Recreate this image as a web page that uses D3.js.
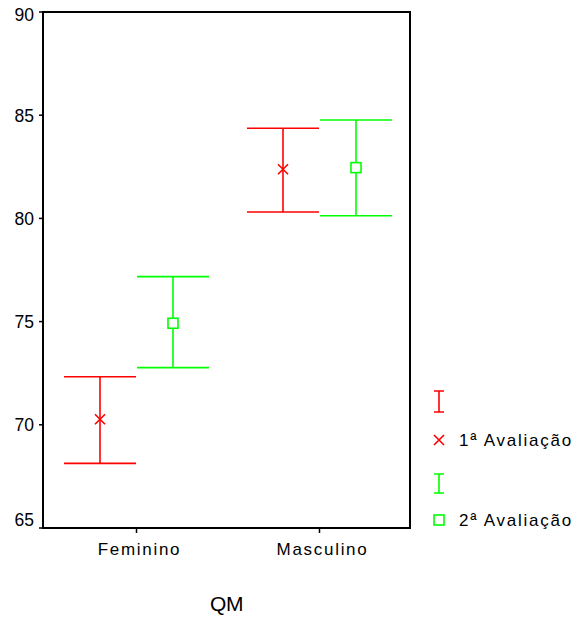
<!DOCTYPE html>
<html>
<head>
<meta charset="utf-8">
<script src="https://cdn.jsdelivr.net/npm/d3@7"></script>
<style>
  body { margin: 0; background: #fff; }
  text { font-family: "Liberation Sans", Arial, sans-serif; fill: #000; }
</style>
</head>
<body>
<div id="viz"></div>
<script>
// data
let categories = ["Feminino", "Masculino"]
let series = ["1ª Avaliação", "2ª Avaliação"]
let seriesColors = ["#ff0000", "#00ff00"]
let means1 = [70.27, 82.38]
let lower1 = [68.13, 80.31]
let upper1 = [72.33, 84.37]
let means2 = [74.92, 82.46]
let lower2 = [72.77, 80.13]
let upper2 = [77.18, 84.77]
let yTicks = [65, 70, 75, 80, 85, 90]
let xTitle = "QM"

let w = 578;
let h = 617;
let plotLeft = 43, plotRight = 410, plotTop = 12, plotBottom = 528;

const svg = d3.select("#viz")
  .append("svg")
  .attr("width", w)
  .attr("height", h);

const yScale = d3.scaleLinear()
  .domain([65, 90])
  .range([plotBottom, plotTop]);

const xScale = d3.scaleBand()
  .domain(categories)
  .range([45, 411]);

const subScale = d3.scaleBand()
  .domain(series)
  .range([-73, 73]);

let rows = [];
categories.forEach((c, i) => {
  rows.push({cat: c, s: series[0], mean: means1[i], lo: lower1[i], hi: upper1[i], color: seriesColors[0]})
  rows.push({cat: c, s: series[1], mean: means2[i], lo: lower2[i], hi: upper2[i], color: seriesColors[1]})
})

let cx = d => xScale(d.cat) + xScale.bandwidth() / 2 + subScale(d.s) + subScale.bandwidth() / 2;
let capW = subScale.bandwidth() - 1;

// frame
svg.append("rect")
  .attr("x", plotLeft)
  .attr("y", plotTop)
  .attr("width", plotRight - plotLeft)
  .attr("height", plotBottom - plotTop)
  .attr("fill", "none")
  .attr("stroke", "black")
  .attr("stroke-width", 2)

// y ticks
let axisGroup = svg.append("g")
yTicks.forEach(t => {
  axisGroup.append("line")
    .attr("x1", plotLeft - 4)
    .attr("x2", plotLeft)
    .attr("y1", yScale(t))
    .attr("y2", yScale(t))
    .attr("stroke", "black")
    .attr("stroke-width", 1.5)
  axisGroup.append("text")
    .attr("x", 34)
    .attr("y", Math.min(Math.max(yScale(t), 15), 520))
    .attr("dy", "0.36em")
    .attr("text-anchor", "end")
    .style("font-size", "17.5px")
    .text(t)
})

// x ticks
categories.forEach(c => {
  let x = xScale(c) + xScale.bandwidth() / 2;
  axisGroup.append("line")
    .attr("x1", x)
    .attr("x2", x)
    .attr("y1", plotBottom)
    .attr("y2", plotBottom + 5)
    .attr("stroke", "black")
    .attr("stroke-width", 1.5)
  axisGroup.append("text")
    .attr("x", x + 3)
    .attr("y", 555)
    .attr("text-anchor", "middle")
    .style("font-size", "17px")
    .style("letter-spacing", "1.7px")
    .text(c)
})

svg.append("text")
  .attr("x", (plotLeft + plotRight) / 2)
  .attr("y", 611)
  .attr("text-anchor", "middle")
  .style("font-size", "21px")
  .style("letter-spacing", "-0.5px")
  .text(xTitle)

// error bars
let barGroup = svg.append("g")
  .attr("stroke-width", 1.6)
  .attr("fill", "none")

barGroup.selectAll(".stem")
  .data(rows)
  .enter()
  .append("line")
  .attr("x1", cx)
  .attr("x2", cx)
  .attr("y1", d => yScale(d.lo))
  .attr("y2", d => yScale(d.hi))
  .attr("stroke", d => d.color)

barGroup.selectAll(".capHi")
  .data(rows)
  .enter()
  .append("line")
  .attr("x1", d => cx(d) - capW / 2)
  .attr("x2", d => cx(d) + capW / 2)
  .attr("y1", d => yScale(d.hi))
  .attr("y2", d => yScale(d.hi))
  .attr("stroke", d => d.color)

barGroup.selectAll(".capLo")
  .data(rows)
  .enter()
  .append("line")
  .attr("x1", d => cx(d) - capW / 2)
  .attr("x2", d => cx(d) + capW / 2)
  .attr("y1", d => yScale(d.lo))
  .attr("y2", d => yScale(d.lo))
  .attr("stroke", d => d.color)

// markers
let drawCross = (g, x, y, color) => {
  g.append("path")
    .attr("d", `M${x - 5},${y - 5}L${x + 5},${y + 5}M${x - 5},${y + 5}L${x + 5},${y - 5}`)
    .attr("stroke", color)
    .attr("stroke-width", 1.6)
    .attr("fill", "none")
}
let drawSquare = (g, x, y, color) => {
  g.append("rect")
    .attr("x", x - 5)
    .attr("y", y - 5)
    .attr("width", 10)
    .attr("height", 10)
    .attr("stroke", color)
    .attr("stroke-width", 1.6)
    .attr("fill", "white")
}

rows.forEach(d => {
  if (d.s == series[0]) drawCross(barGroup, cx(d), yScale(d.mean), d.color)
  else drawSquare(barGroup, cx(d), yScale(d.mean), d.color)
})

// legend
let legend = svg.append("g")
let lx = 439;
let drawIBar = (y1, y2, color) => {
  legend.append("path")
    .attr("d", `M${lx - 5},${y1}H${lx + 5}M${lx},${y1}V${y2}M${lx - 5},${y2}H${lx + 5}`)
    .attr("stroke", color)
    .attr("stroke-width", 1.6)
    .attr("fill", "none")
}
drawIBar(391, 412, seriesColors[0])
drawCross(legend, lx, 440, seriesColors[0])
drawIBar(474, 493, seriesColors[1])
drawSquare(legend, lx, 520, seriesColors[1])

legend.append("text")
  .attr("x", 459)
  .attr("y", 446)
  .style("font-size", "17px")
  .style("letter-spacing", "1.75px")
  .text(series[0])
legend.append("text")
  .attr("x", 459)
  .attr("y", 526)
  .style("font-size", "17px")
  .style("letter-spacing", "1.75px")
  .text(series[1])
</script>
</body>
</html>
